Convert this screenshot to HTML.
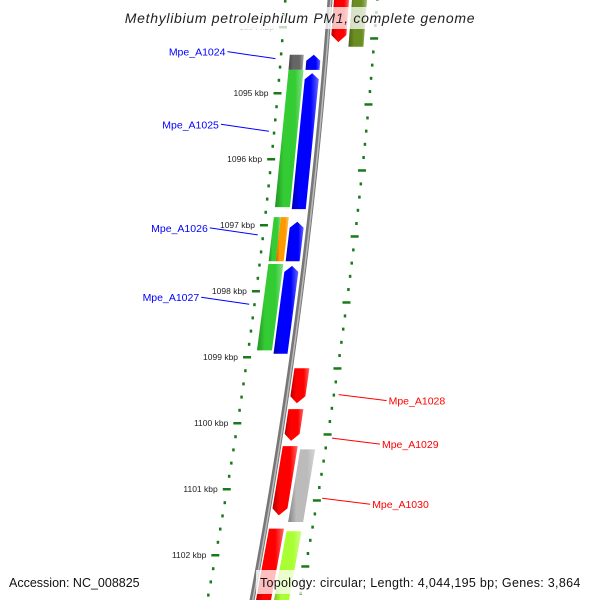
<!DOCTYPE html>
<html><head><meta charset="utf-8">
<style>
html,body{margin:0;padding:0;background:#fff;width:600px;height:600px;overflow:hidden;}
svg{display:block;font-family:"Liberation Sans","DejaVu Sans",sans-serif;}
</style></head>
<body>
<svg id="chart" width="600" height="600" viewBox="0 0 600 600">
<defs></defs>
<g id="ticks"></g>
<g id="backbone"></g>
<g id="genes"></g>
<g id="labels"></g>
<rect x="120" y="7" width="360" height="22" fill="#fff" opacity="0.75"/>
<text x="300" y="23" text-anchor="middle" font-size="14" font-style="italic" fill="#222" letter-spacing="0.7">Methylibium petroleiphilum PM1, complete genome</text>
<text x="9" y="587" font-size="12.5" fill="#111">Accession: NC_008825</text>
<rect x="256" y="570" width="338" height="24" fill="#fff" opacity="0.75"/>
<text x="260" y="587" font-size="12.5" fill="#111" letter-spacing="0.3">Topology: circular; Length: 4,044,195 bp; Genes: 3,864</text>
</svg>
<script>
// data (kbp)
const geneNames = ["Mpe_A1024a","Mpe_A1024","Mpe_A1025a","Mpe_A1025","Mpe_A1026a","Mpe_A1026b","Mpe_A1026","Mpe_A1027a","Mpe_A1027","top-red","top-olive","Mpe_A1028","Mpe_A1029","Mpe_A1030","Mpe_A1030b","bottom-red","bottom-lime"];
const geneStart = [1094.42,1094.42,1094.65,1094.70,1096.88,1096.88,1096.95,1097.59,1097.62,1093.50,1093.50,1099.17,1099.79,1100.35,1100.40,1101.60,1101.64];
const geneEnd   = [1094.65,1094.65,1096.73,1096.76,1097.55,1097.55,1097.55,1098.90,1098.95,1094.23,1094.30,1099.70,1100.27,1101.40,1101.50,1102.80,1102.80];
const geneTrack = ["LO1","LI","LO","LI","LOa","LOb","LI","LO","LI","RI","RO","RI","RI","RI","RO","RI","RO"];
const geneArrow = ["none","up","none","up","none","none","up","none","up","down","none","down","down","down","none","none","none"];
const geneColor = ["#666666","#0000ff","#33cc33","#0000ff","#33cc33","#ff9900","#0000ff","#33cc33","#0000ff","#ff0000","#6b8e23","#ff0000","#ff0000","#ff0000","#bbbbbb","#ff0000","#aaff33"];
const leftTickLabels = [1094,1095,1096,1097,1098,1099,1100,1101,1102];
const calloutNames = ["Mpe_A1024","Mpe_A1025","Mpe_A1026","Mpe_A1027","Mpe_A1028","Mpe_A1029","Mpe_A1030"];
const calloutKbp = [1094.48,1095.58,1097.15,1098.2,1099.57,1100.23,1101.14];
const calloutSide = ["L","L","L","L","R","R","R"];

const NS="http://www.w3.org/2000/svg";
function yOf(k){return 93+(k-1095)*66;}
function bx(y){return 330-0.0717*y-0.000097*y*y;}
const trackOff={LO:[-36,-21],LO1:[-36,-22],LOa:[-36,-29],LOb:[-29,-21],LI:[-19,-5],RI:[4,19],RO:[22,37]};
function mk(tag,attrs,parent){const e=document.createElementNS(NS,tag);for(const k in attrs)e.setAttribute(k,attrs[k]);parent.appendChild(e);return e;}
const svg=document.getElementById('chart');
const defs=svg.querySelector('defs');
function shade(c,f){const n=parseInt(c.slice(1),16);let r=n>>16,g=(n>>8)&255,b=n&255;
 const m=v=>Math.max(0,Math.min(255,Math.round(f>1?v+(255-v)*(f-1):v*f)));return `rgb(${m(r)},${m(g)},${m(b)})`;}

// backbone
const bb=document.getElementById('backbone');
let pts=[];for(let y=-5;y<=605;y+=5)pts.push([bx(y),y]);
const bpath=mk('polyline',{points:pts.map(p=>p.join(',')).join(' '),fill:'none',stroke:'#777','stroke-width':5},bb);


const bhl=mk('polyline',{points:pts.map(p=>(p[0]+0.8)+','+p[1]).join(' '),fill:'none',stroke:'#bbb','stroke-width':1.5},bb);



// ticks
const tg=document.getElementById('ticks');
for(let i=0;i<=50;i++){
 const k=1093.4+i*0.2;
 const y=yOf(k);const major=Math.abs(k-Math.round(k))<0.01;
 const x=bx(y)-45;
 const t=mk('rect',{x:major?x-4:x-1,y:y-1,width:major?8:2.5,height:major?2.5:3,fill:'#1a7a1a'},tg);
 
 
 const yr=yOf(k+0.17);const xr=bx(yr)+47;
 const tr=mk('rect',{x:major?xr-4:xr-1,y:yr-1,width:major?8:2.5,height:major?2.5:3,fill:'#1a7a1a'},tg);
 
 
}
leftTickLabels.forEach(k=>{
 const y=yOf(k);const tx=mk('text',{x:bx(y)-54,y:y+3,'font-size':8.5,'text-anchor':'end',fill:k===1094?'#ccc':'#222'},tg);
 tx.textContent=k+' kbp';
 
 
});

// genes
const gg=document.getElementById('genes');
geneNames.forEach((nm,i)=>{
 const y1=yOf(geneStart[i]),y2=yOf(geneEnd[i]);const [o1,o2]=trackOff[geneTrack[i]];
 const gid='g'+i;
 const lg=mk('linearGradient',{id:gid,x1:0,x2:1,y1:0,y2:0},defs);
 const c=geneColor[i];
 mk('stop',{offset:0,'stop-color':shade(c,0.7)},lg);mk('stop',{offset:0.3,'stop-color':c},lg);
 mk('stop',{offset:0.7,'stop-color':c},lg);mk('stop',{offset:1,'stop-color':shade(c,1.4)},lg);
 const a=geneArrow[i];let p;
 if(a==='up'){const ya=y1+6;p=[[bx(ya)+o1,ya],[bx(y1)+(o1+o2)/2,y1],[bx(ya)+o2,ya],[bx(y2)+o2,y2],[bx(y2)+o1,y2]];}
 else if(a==='down'){const yb=y2-7;p=[[bx(y1)+o1,y1],[bx(y1)+o2,y1],[bx(yb)+o2,yb],[bx(y2)+(o1+o2)/2,y2],[bx(yb)+o1,yb]];}
 else p=[[bx(y1)+o1,y1],[bx(y1)+o2,y1],[bx(y2)+o2,y2],[bx(y2)+o1,y2]];
 const poly=mk('polygon',{points:p.map(q=>q.join(',')).join(' '),fill:`url(#${gid})`},gg);
 
 
});

// callouts
const lgp=document.getElementById('labels');
calloutNames.forEach((nm,i)=>{
 const y=yOf(calloutKbp[i]);const L=calloutSide[i]==='L';
 const col=L?'#0000ff':'#ff0000';
 const ax=L?bx(y)-50:bx(y)+52;const lx=L?ax-48:ax+48;const ly=L?y-7:y+6;
 const ln=mk('line',{x1:ax,y1:y,x2:lx,y2:ly,stroke:col,'stroke-width':1},lgp);
 
 
 const t=mk('text',{x:L?lx-2:lx+2,y:ly+4,'font-size':10.5,'text-anchor':L?'end':'start',fill:col},lgp);
 t.textContent=nm;
 
 
});
</script>
</body></html>
